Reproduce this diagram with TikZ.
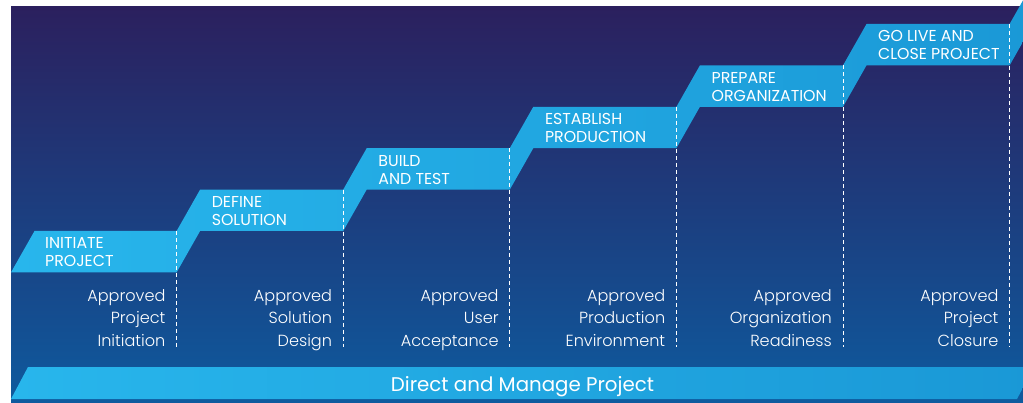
\documentclass[tikz,border=0pt]{standalone}
\usepackage{fontspec}
\setmainfont{Poppins}
\newfontfamily\lightfont{Poppins Light}
\definecolor{bgtop}{RGB}{43,32,94}
\definecolor{bgmid}{RGB}{31,58,118}
\definecolor{bgbot}{RGB}{14,90,158}
\definecolor{stepL}{RGB}{40,182,236}
\definecolor{stepR}{RGB}{26,152,214}
\tikzset{
  steplabel/.style={text=white, inner sep=0pt, font=\fontsize{15.8}{18}\selectfont},
  gatelabel/.style={text=white, inner sep=0pt, font=\lightfont\fontsize{16.1}{22}\selectfont},
  barlabel/.style={text=white, inner sep=0pt, font=\fontsize{19.8}{24}\selectfont},
  gateline/.style={white, line width=1pt, dash pattern=on 4pt off 3pt},
}
\begin{document}
\begin{tikzpicture}[x=1pt,y=-1pt]
\useasboundingbox (0,0) rectangle (1023,403);
\fill[white] (0,0) rectangle (1023,403);
\begin{scope}
\clip (0,0) rectangle (1023,403);
\shade[top color=bgtop, middle color=bgmid, bottom color=bgbot] (11,7) rectangle (1023,403);
% stair band
\shade[left color=stepL, right color=stepR]
  (11,272.4) -- (34.5,231) -- (176.6,231) -- (200.1,189.6) -- (343.2,189.6)
  -- (366.7,148.2) -- (509.8,148.2) -- (533.3,106.8) -- (676.4,106.8)
  -- (699.9,65.4) -- (843,65.4) -- (866.5,24) -- (1009.6,24) -- (1033.1,-17.4)
  -- (1040,-17.4) -- (1040,24) -- (1033.1,24)
  -- (1009.6,65.4) -- (866.5,65.4) -- (843,106.8) -- (699.9,106.8)
  -- (676.4,148.2) -- (533.3,148.2) -- (509.8,189.6) -- (366.7,189.6)
  -- (343.2,231) -- (200.1,231) -- (176.6,272.4) -- cycle;
% bottom bar
\shade[left color=stepL, right color=stepR]
  (11,399) -- (28,367) -- (1034,367) -- (1017,399) -- cycle;
\end{scope}
% gate lines
\foreach \i/\t in {1/231,2/189.6,3/148.2,4/106.8,5/65.4,6/24}{
  \coordinate (g\i top) at ({10+166.6*\i},\t);
  \coordinate (g\i bot) at ({10+166.6*\i},347);
  \draw[gateline] (g\i top) -- (g\i bot);
}
% step labels
\foreach \i/\t/\la/\lb in {0/231/INITIATE/PROJECT, 1/189.6/DEFINE/SOLUTION, 2/148.2/BUILD/AND TEST, 3/106.8/ESTABLISH/PRODUCTION, 4/65.4/PREPARE/ORGANIZATION, 5/24/GO LIVE AND/CLOSE PROJECT}{
  \node[steplabel, anchor=base west] (s\i a) at ({10+166.6*\i+35},\t+18) {\la};
  \node[steplabel, anchor=base west] (s\i b) at ({10+166.6*\i+35},\t+36) {\lb};
}
% gate labels
\foreach \i/\la/\lb/\lc in {1/Approved/Project/Initiation, 2/Approved/Solution/Design, 3/Approved/User/Acceptance, 4/Approved/Production/Environment, 5/Approved/Organization/Readiness, 6/Approved/Project/Closure}{
  \node[gatelabel, anchor=base east] (a\i a) at ({10+166.6*\i-11},302) {\la};
  \node[gatelabel, anchor=base east] (a\i b) at ({10+166.6*\i-11},324) {\lb};
  \node[gatelabel, anchor=base east] (a\i c) at ({10+166.6*\i-11},346) {\lc};
}
\node[barlabel, anchor=base] (bar) at (522.5,391.5) {Direct and Manage Project};
\end{tikzpicture}
\end{document}
